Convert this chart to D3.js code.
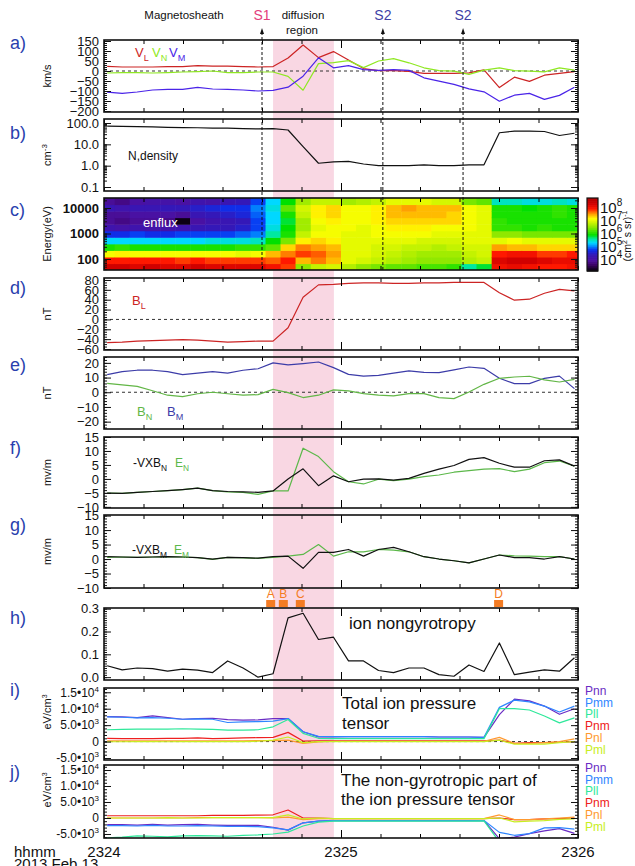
<!DOCTYPE html>
<html>
<head>
<meta charset="utf-8">
<script src="https://cdn.jsdelivr.net/npm/d3@7"></script>
<style>
  body { margin: 0; background: #fff; }
  svg text { font-family: "Liberation Sans", Arial, Helvetica, sans-serif; }
</style>
</head>
<body>
<div id="vis-container"></div>
<script>
// seconds after 23:24:00 UT, 2013 Feb 13
const times = [0.8, 4.6, 8.4, 12.3, 16.1, 19.9, 23.7, 27.5,
  31.3, 35.2, 39.0, 42.8, 46.6, 50.4, 54.3, 58.1,
  61.9, 65.7, 69.5, 73.3, 77.2, 81.0, 84.8, 88.6,
  92.4, 96.2, 100.1, 103.9, 107.7, 111.5, 115.3, 119.1];

// a) ion velocity, km/s
const vL = [23, 20, 20, 20, 22, 22, 27, 24, 24, 22, 20, 22, 65, 130, 67, 97,
  55, 12, 2, 2, -2, -12, -12, -12, -9, 6, -83, -31, -52, -21, -12, -3];
const vN = [-10, -8, -8, -10, -8, -5, -3, 0, -8, -8, -5, -5, -27, -96, 37, 42,
  52, 17, 50, 62, 41, 16, 2, -1, -17, 4, 16, 2, -1, -4, 16, 4];
const vM = [-106, -112, -105, -95, -92, -92, -82, -90, -92, -95, -100, -97, -81, -26, 66, 16,
  27, 7, 3, 7, 3, -34, -51, -67, -89, -104, -151, -121, -112, -142, -122, -81];

// b) density, cm^-3
const density = [72, 70, 68, 66, 63, 61, 60, 58, 57, 55, 53, 54, 47, 7.8, 1.3, 1.5,
  1.6, 1.2, 1.0, 1.0, 1.0, 1.1, 1.0, 1.0, 1.1, 1.1, 35, 42, 42, 40, 26, 33];

// c) ion energy flux, log10, rows = energy channels (low -> high)
const energies = [49, 89, 161, 292, 527, 953, 1722, 3112, 5623, 10160, 18360];
const enfluxLog = [
  [8.3, 7.9, 7.1, 6.0, 5.3, 4.7, 4.2, 3.9, 3.9, 4.3, 3.9],
  [8.3, 7.9, 7.2, 6.1, 5.3, 4.7, 4.1, 3.8, 3.9, 4.2, 3.8],
  [8.2, 7.9, 7.1, 6.0, 5.3, 4.8, 4.2, 3.9, 4.0, 4.3, 4.0],
  [8.3, 7.9, 7.1, 6.0, 5.3, 4.7, 4.1, 3.9, 4.0, 4.3, 4.1],
  [8.2, 7.9, 7.1, 6.0, 5.3, 4.7, 4.1, 3.8, 4.0, 4.4, 4.1],
  [8.2, 7.8, 7.1, 6.0, 5.3, 4.8, 4.2, 3.2, 3.9, 4.4, 4.0],
  [8.3, 7.9, 7.1, 6.0, 5.3, 4.8, 4.3, 4.0, 4.3, 4.5, 4.2],
  [8.2, 7.8, 7.1, 6.0, 5.4, 4.8, 4.4, 4.2, 4.4, 4.6, 4.1],
  [8.2, 7.8, 7.1, 6.0, 5.4, 4.8, 4.4, 4.3, 4.5, 4.7, 4.3],
  [8.2, 7.8, 7.0, 6.1, 5.4, 4.9, 4.5, 4.4, 4.6, 4.7, 4.4],
  [8.2, 7.8, 7.1, 6.1, 5.5, 5.0, 4.8, 4.8, 4.9, 5.0, 4.8],
  [8.0, 7.7, 7.4, 6.3, 5.9, 5.6, 5.4, 5.3, 5.3, 5.4, 5.3],
  [7.8, 7.9, 7.6, 7.3, 6.4, 6.0, 5.9, 5.8, 6.0, 6.3, 5.9],
  [6.5, 7.4, 7.8, 7.6, 7.2, 6.8, 6.6, 6.6, 6.8, 6.9, 6.6],
  [6.8, 7.6, 7.7, 7.5, 7.3, 7.1, 7.0, 7.1, 7.2, 7.2, 6.8],
  [6.9, 7.4, 7.5, 7.4, 7.2, 7.1, 7.1, 7.2, 7.3, 7.3, 6.8],
  [6.7, 7.0, 7.0, 7.0, 7.0, 7.0, 7.1, 7.1, 7.1, 7.1, 6.6],
  [6.5, 6.9, 7.0, 7.0, 7.0, 7.0, 7.0, 7.1, 7.1, 7.1, 6.7],
  [6.4, 6.8, 6.9, 6.9, 7.0, 7.1, 7.1, 7.2, 7.2, 7.2, 6.8],
  [6.3, 6.7, 6.8, 6.9, 7.0, 7.1, 7.2, 7.3, 7.4, 7.4, 7.0],
  [6.3, 6.6, 6.7, 6.8, 7.0, 7.1, 7.2, 7.3, 7.4, 7.5, 7.0],
  [6.2, 6.5, 6.6, 6.8, 6.9, 7.1, 7.2, 7.3, 7.4, 7.4, 7.0],
  [6.2, 6.5, 6.6, 6.7, 6.9, 7.0, 7.1, 7.3, 7.4, 7.4, 6.9],
  [6.1, 6.5, 6.6, 6.8, 6.9, 7.0, 7.1, 7.3, 7.3, 7.4, 6.9],
  [5.6, 6.7, 6.8, 6.9, 7.0, 7.0, 7.1, 7.1, 7.1, 7.1, 6.4],
  [5.8, 6.8, 6.9, 6.9, 7.0, 7.0, 7.0, 7.0, 7.0, 7.0, 6.3],
  [8.0, 8.2, 7.9, 7.5, 7.0, 6.5, 6.1, 6.1, 6.0, 6.0, 5.5],
  [8.1, 8.3, 8.0, 7.4, 7.1, 6.5, 6.1, 6.0, 6.0, 6.0, 5.5],
  [8.0, 8.3, 8.0, 7.4, 7.0, 6.4, 6.0, 6.0, 6.0, 5.9, 5.4],
  [7.9, 8.2, 7.8, 7.3, 7.0, 6.4, 6.1, 6.0, 6.0, 6.0, 5.4],
  [7.9, 8.1, 7.8, 7.3, 7.0, 6.4, 6.0, 6.0, 6.1, 6.1, 5.5],
  [8.0, 8.1, 7.9, 7.3, 7.0, 6.4, 6.0, 6.0, 6.0, 6.0, 5.4]
];

// d), e) magnetic field, nT
const bL = [-47, -46, -44, -43, -42, -41, -42, -44, -46, -45, -44, -44, -17, 45, 70, 71,
  73, 74, 74, 73, 73, 74, 74, 75, 75, 75, 54, 39, 41, 53, 61, 58];
const bM = [12, 14, 15, 15, 14, 12, 13, 14, 13, 15, 16, 20, 18.6, 19.5, 20.6, 16.8,
  12.2, 11, 11.5, 13, 14.5, 13.6, 13.4, 15.2, 17.2, 16.3, 9.5, 5.9, 5.9, 9.5, 11, 2.5];
const bN = [6, 5, 4, 1, -2, -3, -1, 0, -1, -2, -1.6, 2, -0.2, -3.6, -2, 1.6,
  0.9, -0.9, -2, -2.5, -0.9, -0.9, -3.6, -4.3, 0.2, 5.4, 9.5, 10.4, 10.9, 8.4, 7, 8.8];

// f), g) electric field, mV/m
const vxbN = [-5.1, -5.2, -4.8, -4.5, -4.2, -3.8, -3.3, -4.2, -4.5, -4.6, -4.8, -4.3, 0, 3.6, -2.4, 1.1,
  -1, -0.1, 0, -0.4, 0.2, 2, 3.5, 4.8, 7, 7.6, 5.6, 4.2, 4.2, 6.5, 6.8, 4.6];
const eN = [-5.1, -5.2, -4.8, -4.5, -4.2, -3.8, -3.3, -4.2, -4.6, -4.8, -5.5, -4.3, -4.3, 11, 8, 2.6,
  -1, -1.8, -0.1, -0.6, -0.1, 0.8, 1.4, 2.4, 3, 3.5, 3.7, 2.6, 3.5, 5.8, 6.4, 4.6];
const vxbM = [0.8, 0.7, 0.6, 0.7, 0.8, 0.7, 0.5, 0, 0.6, 0.5, 0.3, 0.8, 1, -3.2, 2.3, 2.3,
  3.3, 1, 3.3, 4, 2.5, 0.8, 0, -0.6, -1.3, 0, 1.4, 0.5, 0.5, 0, 0.8, 0];
const eM = [0.6, 0.7, 0.6, 0.7, 0.8, 0.7, 0.5, -0.1, 0.6, 0.4, 0.2, 0.6, 1, 1.6, 5, 1,
  2.5, 2.5, 3.3, 3.1, 2.5, 0.8, 0, -0.6, -1.3, 0, 1.4, 1.1, 1, 0.8, 0.8, 0];

// h) ion nongyrotropy
const nongyro = [0.05, 0.032, 0.04, 0.037, 0.026, 0.035, 0.031, 0.02, 0.071, 0.04, 0.0, 0.015, 0.26, 0.28, 0.165, 0.175,
  0.071, 0.071, 0.029, 0.02, 0.04, 0.04, 0.011, 0.004, 0.053, 0.025, 0.15, 0.011, 0.022, 0.032, 0.026, 0.085];

// i) total ion pressure tensor, eV/cm^3
const pnnTot = [7600, 7500, 7300, 7800, 7300, 6800, 7000, 7100, 6700, 6500, 6600, 7000, 7000, 3000, 1450, 1400,
  1500, 1500, 1500, 1500, 1500, 1500, 1400, 1400, 1400, 1300, 8200, 12900, 12400, 10800, 8300, 10000];
const pmmTot = [7500, 7400, 7200, 7300, 7100, 6800, 6900, 6800, 5800, 6000, 6100, 6200, 7000, 3000, 1600, 1500,
  1500, 1500, 1500, 1500, 1500, 1500, 1400, 1400, 1400, 1300, 10400, 12600, 12100, 10800, 9000, 10800];
const pllTot = [3600, 3700, 3800, 3800, 3800, 3900, 3800, 3700, 3500, 3500, 3600, 4500, 6700, 2500, 1000, 900,
  900, 900, 900, 900, 900, 900, 900, 900, 900, 900, 10000, 10000, 9600, 7800, 5700, 7200];
const pnmTot = [1000, 900, 900, 900, 1000, 1000, 1100, 900, 1000, 1100, 1200, 1300, 2800, 150, 200, 200,
  200, 200, 200, 200, 200, 200, 200, 200, 200, 200, 450, -550, -300, -300, -200, 0];
const pnlTot = [200, 200, 200, 200, 200, 200, 200, 200, 200, 250, 300, 300, 450, -550, -100, 100,
  100, 100, 100, 100, 100, 100, 100, 100, 100, 100, 1270, -550, -550, -300, 0, 850];
const pmlTot = [-50, -50, 0, 0, -50, 0, 0, 0, 0, 0, 100, 450, 1400, -300, 0, 0,
  0, 0, 0, 0, 0, 0, 0, 0, 0, 0, 450, -800, -800, -800, -300, 0];

// j) non-gyrotropic part, eV/cm^3
const pnnNg = [-2100, -2100, -2200, -2000, -2200, -2100, -2000, -2200, -2300, -2300, -2300, -2900, -3800, -1500, -1000, -800,
  -800, -800, -800, -800, -800, -800, -800, -800, -800, -800, -6500, -6000, -4900, -4000, -3300, -4800];
const pmmNg = [-2400, -2400, -2500, -2300, -2500, -2500, -2400, -2500, -2600, -2600, -2700, -3100, -3700, -1500, -1000, -800,
  -800, -800, -800, -800, -800, -800, -800, -800, -800, -800, -4500, -5400, -4900, -3100, -3000, -3500];
const pllNg = [-6200, -6000, -5600, -5700, -5900, -5600, -5500, -5600, -5700, -5400, -5300, -5000, -4400, -2500, -1300, -1000,
  -1000, -1000, -1000, -1000, -1000, -1000, -1000, -1000, -1000, -900, -7500, -9000, -9000, -8000, -7500, -8000];
const pnmNg = [700, 700, 700, 700, 700, 700, 700, 800, 800, 800, 900, 1000, 2500, 0, 0, -200,
  -200, -200, -200, -200, -200, -200, -200, -200, -200, -200, 0, -500, -500, -300, -200, 0];
const pnlNg = [0, 0, 0, 0, 0, 0, 100, 100, 100, 100, 100, 0, 300, -500, -200, -200,
  -200, -200, -200, -200, -200, -200, -200, -200, -200, -200, 950, -500, -500, -300, 0, 300];
const pmlNg = [0, 0, 0, 0, 100, 0, 0, 100, 100, 100, 100, 100, 1000, -300, 0, -200,
  -200, -200, -200, -200, -200, -200, -200, -200, -200, -200, 0, -1200, -1000, -800, -400, -300];

const pressureNames = ['Pnn', 'Pmm', 'Pll', 'Pnm', 'Pnl', 'Pml'];
const pressureColors = ['#6a2cc4', '#2f86ff', '#2ee89a', '#ee2020', '#ff9a30', '#c8ee22'];

// events
const regionStart = 42.8, regionEnd = 58.2;
const boundaries = [
  { t: 40.0, label: 'S1', color: '#e3407c' },
  { t: 70.6, label: 'S2', color: '#3f3fa6' },
  { t: 90.9, label: 'S2', color: '#3f3fa6' }
];
const markers = [
  { t: 42.2, label: 'A' }, { t: 45.4, label: 'B' }, { t: 49.7, label: 'C' }, { t: 99.9, label: 'D' }
];
const timeLabels = [{ t: 0, label: '2324' }, { t: 60, label: '2325' }, { t: 120, label: '2326' }];

// ---------------------------------------------------------------------------
const width = 635, height = 866;
const left = 104, right = 578;
const blueLabel = '#2a3fae';

const xScale = d3.scaleLinear().domain([0, 120]).range([left, right]);
const tenSec = d3.range(0, 121, 10);

const svg = d3.select('#vis-container').append('svg')
  .attr('width', width).attr('height', height);
const defs = svg.append('defs');

// diffusion region shading spans all panels
svg.append('rect')
  .attr('x', xScale(regionStart)).attr('y', 40)
  .attr('width', xScale(regionEnd) - xScale(regionStart)).attr('height', 798)
  .attr('fill', '#f9d7e3');

let clipId = 0;
function makePanel(top, bottom, y, opts) {
  const g = svg.append('g');
  const id = 'clip' + (clipId++);
  defs.append('clipPath').attr('id', id).append('rect')
    .attr('x', left).attr('y', top).attr('width', right - left).attr('height', bottom - top);
  const plot = g.append('g').attr('clip-path', `url(#${id})`);
  const over = g.append('g');

  if (opts.zero) {
    plot.append('line')
      .attr('x1', left).attr('x2', right).attr('y1', y(0)).attr('y2', y(0))
      .attr('stroke', '#333').attr('stroke-width', 1).attr('stroke-dasharray', '3,3');
  }

  // left / right minor ticks
  [['axisLeft', left], ['axisRight', right]].forEach(([fn, xp]) => {
    over.append('g').attr('transform', `translate(${xp},0)`)
      .call(d3[fn](y).tickValues(opts.minor).tickSize(-3).tickFormat(''))
      .call(s => s.select('.domain').remove());
    const ax = over.append('g').attr('transform', `translate(${xp},0)`)
      .call(d3[fn](y).tickValues(opts.major).tickSize(-7).tickPadding(5)
        .tickFormat(fn === 'axisLeft' ? opts.fmt : ''))
      .call(s => s.select('.domain').remove());
    if (fn === 'axisLeft') {
      ax.selectAll('text')
        .attr('font-size', opts.fontSize || 13)
        .attr('font-weight', opts.bold ? 'bold' : null)
        .attr('fill', '#111');
      if (opts.sci) sciLabels(ax);
    }
  });
  over.selectAll('.tick line').attr('stroke', '#111');

  // time ticks, top and bottom
  [['axisBottom', bottom], ['axisTop', top]].forEach(([fn, yp]) => {
    over.append('g').attr('transform', `translate(0,${yp})`)
      .call(d3[fn](xScale).tickValues(tenSec).tickSize(-4).tickFormat(''))
      .call(s => s.select('.domain').remove());
    over.append('g').attr('transform', `translate(0,${yp})`)
      .call(d3[fn](xScale).tickValues([60]).tickSize(-8).tickFormat(''))
      .call(s => s.select('.domain').remove());
  });

  over.append('rect')
    .attr('x', left).attr('y', top).attr('width', right - left).attr('height', bottom - top)
    .attr('fill', 'none').attr('stroke', '#111').attr('stroke-width', 1.6);

  // panel letter and y title
  svg.append('text').attr('x', 10).attr('y', opts.letterY)
    .attr('font-size', 18).attr('fill', blueLabel).text(opts.letter);
  const yt = svg.append('text')
    .attr('transform', `translate(51,${opts.titleY || (top + bottom) / 2}) rotate(-90)`)
    .attr('text-anchor', 'middle').attr('font-size', 11).attr('fill', '#111');
  opts.title(yt);

  return { plot, over, y };
}

function sciLabels(ax) {
  ax.selectAll('.tick text').each(function (d) {
    const t = d3.select(this);
    t.text(null);
    if (d === 0) { t.text('0'); return; }
    const e = Math.floor(Math.log10(Math.abs(d)));
    const m = d / Math.pow(10, e);
    t.append('tspan').text(m.toFixed(1) + '\u202210');
    t.append('tspan').attr('dy', -5).attr('font-size', 8).text(e);
  });
}

const line = (y, vals) => d3.line()
  .x((d, i) => xScale(times[i]))
  .y(d => y(d))(vals);

function drawLine(p, vals, color, w) {
  p.plot.append('path')
    .attr('d', line(p.y, vals))
    .attr('fill', 'none').attr('stroke', color)
    .attr('stroke-width', w || 1.2).attr('stroke-linejoin', 'round');
}

function subLabel(x, y, main, sub, color, size) {
  const t = svg.append('text').attr('x', x).attr('y', y)
    .attr('font-size', size || 13).attr('fill', color);
  t.append('tspan').text(main);
  t.append('tspan').attr('dy', 4).attr('font-size', (size || 13) * 0.7).text(sub);
  return t;
}

const simpleTitle = s => t => t.text(s);

// a) velocity
const pa = makePanel(40, 112, d3.scaleLinear().domain([-205, 155]).range([112, 40]), {
  letter: 'a)', letterY: 49, zero: true, major: d3.range(-200, 151, 50), minor: d3.range(-200, 151, 10),
  fmt: d3.format('d'), title: simpleTitle('km/s')
});
drawLine(pa, vL, '#cc2424');
drawLine(pa, vN, '#8fe822');
drawLine(pa, vM, '#4a24e8');
subLabel(135, 57, 'V', 'L', '#cc2424');
subLabel(152, 57, 'V', 'N', '#8fe822');
subLabel(169, 57, 'V', 'M', '#4a24e8');

// b) density (log)
const pb = makePanel(119, 191, d3.scaleLog().domain([0.065, 154]).range([191, 119]), {
  letter: 'b)', letterY: 139, major: [0.1, 1, 10, 100],
  minor: [0.1, 1, 10, 100].flatMap(d => d3.range(1, 10).map(k => d * k)).filter(d => d < 154),
  fmt: d3.format('.1f'), fontSize: 13,
  title: t => { t.append('tspan').text('cm'); t.append('tspan').attr('dy', -4).attr('font-size', 8).text('-3'); }
});
drawLine(pb, density, '#111');
svg.append('text').attr('x', 128).attr('y', 160).attr('font-size', 12).attr('fill', '#111').text('N,density');

// c) spectrogram
const pcY = d3.scaleLog().domain([37, 24700]).range([270, 198]);
const color = d3.scaleLinear()
  .domain([3.1, 3.6, 3.95, 4.4, 4.75, 5.05, 5.3, 5.6, 5.9, 6.5, 7.15, 7.5, 7.9, 8.3, 8.7])
  .range(['#000000', '#3a0064', '#4c10a0', '#3418b8', '#0a30f0', '#0090ff', '#00d8ff', '#00e8a0',
    '#00e000', '#90e800', '#ffff00', '#ffa000', '#ff1800', '#d00000', '#b00000'])
  .clamp(true);
const pc = makePanel(198, 270, pcY, {
  letter: 'c)', letterY: 216, major: [100, 1000, 10000],
  minor: [10, 100, 1000, 10000].flatMap(d => d3.range(1, 10).map(k => d * k)).filter(d => d > 37 && d < 24700),
  fmt: d3.format('d'), bold: true, fontSize: 13, title: simpleTitle('Energy(eV)')
});
const logE = energies.map(Math.log10);
const eEdges = logE.map((l, i) => i === 0 ? l - (logE[1] - l) / 2 : (logE[i - 1] + l) / 2);
eEdges.push(logE[logE.length - 1] + (logE[logE.length - 1] - logE[logE.length - 2]) / 2);
const tEdges = times.map((t, i) => i === 0 ? 0 : (times[i - 1] + t) / 2);
tEdges.push(120);
const cells = [];
enfluxLog.forEach((col, k) => col.forEach((v, i) => cells.push({ k, i, v })));
pc.plot.insert('g', ':first-child').selectAll('rect').data(cells).join('rect')
  .attr('x', d => xScale(tEdges[d.k]))
  .attr('width', d => xScale(tEdges[d.k + 1]) - xScale(tEdges[d.k]) + 0.5)
  .attr('y', d => pcY(Math.pow(10, eEdges[d.i + 1])))
  .attr('height', d => pcY(Math.pow(10, eEdges[d.i])) - pcY(Math.pow(10, eEdges[d.i + 1])) + 0.5)
  .attr('fill', d => color(d.v));
svg.append('text').attr('x', 143).attr('y', 227).attr('font-size', 13).attr('fill', '#fff').text('enflux');

// colorbar
const cbY = d3.scaleLinear().domain([3.1, 8.7]).range([271, 198]);
const cb = svg.append('g');
cb.selectAll('rect').data(d3.range(3.1, 8.7, 0.05)).join('rect')
  .attr('x', 587).attr('width', 11)
  .attr('y', d => cbY(d + 0.05)).attr('height', d => cbY(d) - cbY(d + 0.05) + 0.6)
  .attr('fill', d => color(d + 0.025));
cb.append('rect').attr('x', 587).attr('y', 198).attr('width', 11).attr('height', 73)
  .attr('fill', 'none').attr('stroke', '#111').attr('stroke-width', 1.2);
[4, 5, 6, 7, 8].forEach(e => {
  const t = cb.append('text').attr('x', 600).attr('y', cbY(e) + 6)
    .attr('font-size', 15).attr('fill', '#111');
  t.append('tspan').text('10');
  t.append('tspan').attr('dy', -7).attr('font-size', 10).text(e);
});
const unit = svg.append('text').attr('transform', 'translate(631,236) rotate(-90)')
  .attr('text-anchor', 'middle').attr('font-size', 10.5).attr('fill', '#111');
unit.append('tspan').text('(cm');
unit.append('tspan').attr('dy', -4).attr('font-size', 7).text('2');
unit.append('tspan').attr('dy', 4).text(' s sr)');
unit.append('tspan').attr('dy', -4).attr('font-size', 7).text('-1');

// d) BL
const pd = makePanel(278, 350, d3.scaleLinear().domain([-62, 84]).range([350, 278]), {
  letter: 'd)', letterY: 294, zero: true, major: d3.range(-60, 81, 20), minor: d3.range(-60, 81, 5),
  fmt: d3.format('d'), title: simpleTitle('nT')
});
drawLine(pd, bL, '#cc2424');
subLabel(132, 305, 'B', 'L', '#cc2424');

// e) BN, BM
const pe = makePanel(357, 429, d3.scaleLinear().domain([-25, 24]).range([429, 357]), {
  letter: 'e)', letterY: 371, zero: true, major: [-20, -10, 0, 10, 20], minor: d3.range(-24, 25, 2),
  fmt: d3.format('d'), title: simpleTitle('nT')
});
drawLine(pe, bM, '#3c3ca8');
drawLine(pe, bN, '#62b646');
subLabel(137, 416, 'B', 'N', '#62b646');
subLabel(167, 416, 'B', 'M', '#3c3ca8');

// f) -VxB_N, E_N
const pf = makePanel(437, 508, d3.scaleLinear().domain([-10.4, 15]).range([508, 437]), {
  letter: 'f)', letterY: 454, major: [-10, -5, 0, 5, 10, 15], minor: d3.range(-10, 16, 1),
  fmt: d3.format('d'), title: simpleTitle('mv/m')
});
drawLine(pf, eN, '#5cb84a');
drawLine(pf, vxbN, '#111');
subLabel(133, 467, '-VXB', 'N', '#111', 12);
subLabel(175, 467, 'E', 'N', '#5cb84a', 12);

// g) -VxB_M, E_M
const pg = makePanel(515, 588, d3.scaleLinear().domain([-10, 15.2]).range([588, 515]), {
  letter: 'g)', letterY: 531, major: [-10, -5, 0, 5, 10, 15], minor: d3.range(-10, 16, 1),
  fmt: d3.format('d'), title: simpleTitle('mv/m')
});
drawLine(pg, eM, '#5cb84a');
drawLine(pg, vxbM, '#111');
subLabel(132, 554, '-VXB', 'M', '#111', 12);
subLabel(174, 554, 'E', 'M', '#5cb84a', 12);

// A-D markers
markers.forEach(m => {
  svg.append('rect').attr('x', xScale(m.t) - 4.5).attr('y', 600).attr('width', 9).attr('height', 7)
    .attr('fill', '#f47c24');
  svg.append('text').attr('x', xScale(m.t)).attr('y', 598).attr('text-anchor', 'middle')
    .attr('font-size', 12).attr('fill', '#f47c24').text(m.label);
});

// h) nongyrotropy
const ph = makePanel(608, 680, d3.scaleLinear().domain([-0.0125, 0.303]).range([680, 608]), {
  letter: 'h)', letterY: 624, major: [0, 0.1, 0.2, 0.3], minor: d3.range(0, 0.301, 0.01),
  fmt: d3.format('.1f'), title: () => {}
});
drawLine(ph, nongyro, '#111');
svg.append('text').attr('x', 349).attr('y', 629).attr('font-size', 17).attr('fill', '#111')
  .text('ion nongyrotropy');

// i), j) pressure tensors
const pressTitle = t => {
  t.append('tspan').text('eV/cm');
  t.append('tspan').attr('dy', -4).attr('font-size', 7).text('3');
};
const pi = makePanel(688, 760, d3.scaleLinear().domain([-5600, 16300]).range([760, 688]), {
  letter: 'i)', letterY: 696, zero: true, major: [-5000, 0, 5000, 10000, 15000], minor: d3.range(-5000, 16001, 1000),
  fmt: d3.format('d'), sci: true, fontSize: 12, title: pressTitle, titleY: 712
});
[pnnTot, pmmTot, pllTot, pnmTot, pnlTot, pmlTot].forEach((s, i) => drawLine(pi, s, pressureColors[i]));
svg.append('text').attr('x', 342).attr('y', 709).attr('font-size', 17).attr('fill', '#111').text('Total ion pressure');
svg.append('text').attr('x', 342).attr('y', 729).attr('font-size', 17).attr('fill', '#111').text('tensor');

const pj = makePanel(765, 838, d3.scaleLinear().domain([-6250, 16560]).range([838, 765]), {
  letter: 'j)', letterY: 778, major: [-5000, 0, 5000, 10000, 15000], minor: d3.range(-6000, 16001, 1000),
  fmt: d3.format('d'), sci: true, fontSize: 12, title: pressTitle, titleY: 790
});
[pnnNg, pmmNg, pllNg, pnmNg, pnlNg, pmlNg].forEach((s, i) => drawLine(pj, s, pressureColors[i]));
svg.append('text').attr('x', 341).attr('y', 786).attr('font-size', 17).attr('fill', '#111').text('The non-gyrotropic part of');
svg.append('text').attr('x', 341).attr('y', 805).attr('font-size', 17).attr('fill', '#111').text('the ion pressure tensor');

[691, 768].forEach(y0 => {
  pressureNames.forEach((n, i) => {
    svg.append('text').attr('x', 585).attr('y', y0 + 4 + i * 11.7).attr('font-size', 12)
      .attr('fill', pressureColors[i]).text(n);
  });
});

// time labels
timeLabels.forEach(d => {
  svg.append('text').attr('x', xScale(d.t)).attr('y', 857).attr('text-anchor', 'middle')
    .attr('font-size', 15).attr('fill', '#111').text(d.label);
});
svg.append('text').attr('x', 14).attr('y', 857).attr('font-size', 15).attr('fill', '#111').text('hhmm');
svg.append('text').attr('x', 14).attr('y', 869).attr('font-size', 15).attr('fill', '#111').text('2013 Feb 13');

// boundary markers and annotations
boundaries.forEach(b => {
  const x = xScale(b.t);
  svg.append('line').attr('x1', x).attr('x2', x).attr('y1', 32).attr('y2', 270)
    .attr('stroke', '#111').attr('stroke-width', 1).attr('stroke-dasharray', '3,2');
  svg.append('path').attr('d', `M${x - 2},34 L${x},28 L${x + 2},34 Z`).attr('fill', '#111');
  svg.append('text').attr('x', x).attr('y', 20).attr('text-anchor', 'middle')
    .attr('font-size', 14).attr('fill', b.color).text(b.label);
});
svg.append('text').attr('x', 184).attr('y', 19).attr('text-anchor', 'middle')
  .attr('font-size', 11.5).attr('fill', '#111').text('Magnetosheath');
svg.append('text').attr('x', 303).attr('y', 19).attr('text-anchor', 'middle')
  .attr('font-size', 11.5).attr('fill', '#111').text('diffusion');
svg.append('text').attr('x', 302).attr('y', 34).attr('text-anchor', 'middle')
  .attr('font-size', 11.5).attr('fill', '#111').text('region');
</script>
</body>
</html>
